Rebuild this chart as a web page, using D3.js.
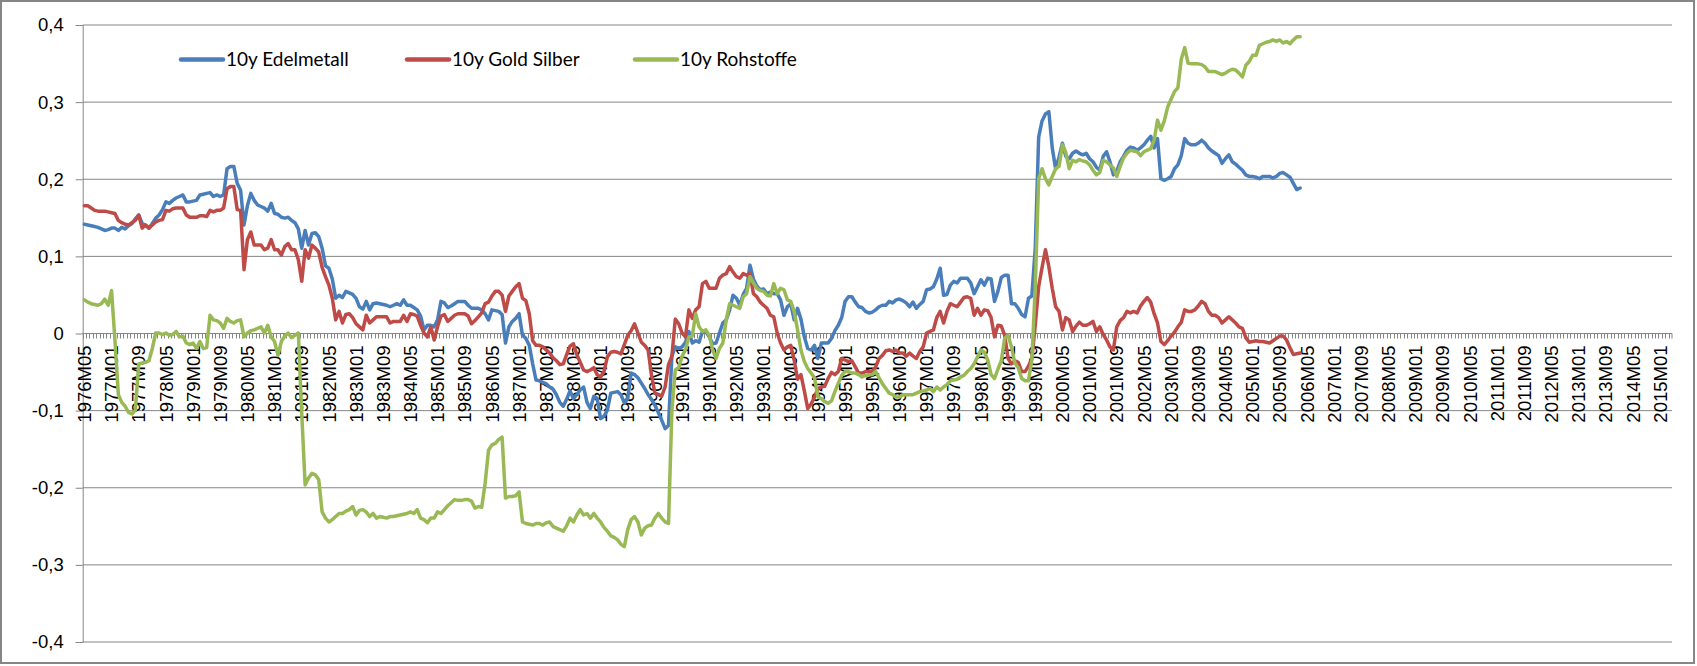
<!DOCTYPE html>
<html>
<head>
<meta charset="utf-8">
<script src="https://cdnjs.cloudflare.com/ajax/libs/d3/7.8.5/d3.min.js"></script>
<style>
  body { margin: 0; background: #fff; }
  svg { display: block; font-family: Lato, "Open Sans", sans-serif; }
</style>
</head>
<body>
<script>
// month categories start 1976M05, axis runs to 2015M04
var startYear = 1976;
var startMonth = 5;
var monthCount = 468;
var labelStep = 8;

var yTicks = [-0.4, -0.3, -0.2, -0.1, 0, 0.1, 0.2, 0.3, 0.4];

var seriesNames = ["10y Edelmetall", "10y Gold Silber", "10y Rohstoffe"];
var seriesColors = ["#4A7EBB", "#BE4B48", "#98B954"];

var edelmetall = [
  0.141,0.140,0.139,0.138,0.137,0.135,0.133,0.134,0.136,0.136,
  0.133,0.137,0.135,0.139,0.142,0.148,0.153,0.142,0.140,0.136,
  0.142,0.149,0.153,0.160,0.170,0.168,0.172,0.175,0.177,0.179,
  0.170,0.170,0.171,0.172,0.179,0.180,0.181,0.182,0.177,0.179,
  0.177,0.179,0.213,0.216,0.216,0.194,0.185,0.140,0.165,0.181,
  0.172,0.166,0.164,0.162,0.158,0.168,0.155,0.154,0.150,0.149,
  0.150,0.146,0.143,0.135,0.110,0.133,0.114,0.129,0.130,0.125,
  0.110,0.087,0.084,0.070,0.045,0.049,0.046,0.054,0.052,0.050,
  0.045,0.034,0.031,0.041,0.030,0.038,0.039,0.038,0.037,0.036,
  0.034,0.036,0.038,0.036,0.043,0.036,0.036,0.033,0.030,0.022,
  0.004,0.010,0.010,0.008,0.017,0.041,0.039,0.033,0.035,0.038,
  0.041,0.041,0.041,0.036,0.032,0.032,0.032,0.030,0.025,0.017,
  0.030,0.029,0.028,0.024,-0.013,0.008,0.015,0.019,0.025,-0.003,
  -0.007,-0.016,-0.040,-0.061,-0.062,-0.064,-0.066,-0.070,-0.073,-0.080,
  -0.090,-0.095,-0.086,-0.075,-0.085,-0.080,-0.074,-0.070,-0.090,-0.098,
  -0.082,-0.085,-0.111,-0.108,-0.100,-0.078,-0.077,-0.076,-0.080,-0.091,
  -0.085,-0.052,-0.054,-0.058,-0.065,-0.072,-0.080,-0.086,-0.094,-0.103,
  -0.113,-0.124,-0.120,-0.030,-0.018,-0.020,-0.018,-0.012,0.002,-0.013,
  -0.010,-0.012,0.002,0.002,-0.005,-0.014,-0.013,0.000,0.013,0.017,
  0.030,0.049,0.045,0.036,0.050,0.058,0.088,0.070,0.061,0.056,
  0.057,0.051,0.053,0.051,0.051,0.043,0.023,0.034,0.038,0.017,
  0.032,0.018,-0.005,-0.020,-0.022,-0.016,-0.033,-0.013,-0.013,-0.013,
  -0.007,0.003,0.010,0.020,0.041,0.047,0.047,0.040,0.034,0.033,
  0.028,0.026,0.027,0.030,0.034,0.036,0.036,0.041,0.039,0.043,
  0.044,0.042,0.039,0.034,0.040,0.032,0.037,0.041,0.056,0.057,
  0.060,0.070,0.084,0.049,0.050,0.062,0.067,0.065,0.071,0.071,
  0.071,0.065,0.051,0.060,0.069,0.062,0.071,0.070,0.041,0.054,
  0.072,0.075,0.075,0.038,0.038,0.032,0.024,0.021,0.045,0.048,
  0.110,0.254,0.275,0.284,0.287,0.240,0.213,0.228,0.246,0.229,
  0.226,0.233,0.236,0.233,0.231,0.233,0.226,0.222,0.215,0.211,
  0.229,0.235,0.222,0.205,0.210,0.222,0.229,0.237,0.241,0.240,
  0.237,0.240,0.244,0.250,0.255,0.240,0.252,0.200,0.198,0.200,
  0.203,0.213,0.218,0.230,0.252,0.246,0.244,0.244,0.246,0.250,
  0.246,0.240,0.236,0.233,0.230,0.220,0.226,0.231,0.222,0.219,
  0.215,0.211,0.205,0.203,0.203,0.202,0.200,0.203,0.203,0.203,
  0.201,0.203,0.207,0.208,0.205,0.202,0.194,0.186,0.188
];

var goldSilber = [
  0.165,0.165,0.162,0.159,0.158,0.158,0.158,0.157,0.156,0.155,
  0.146,0.143,0.141,0.140,0.143,0.146,0.153,0.136,0.140,0.136,
  0.140,0.144,0.146,0.147,0.159,0.158,0.161,0.162,0.162,0.162,
  0.153,0.150,0.150,0.150,0.152,0.152,0.151,0.159,0.157,0.159,
  0.159,0.162,0.187,0.190,0.190,0.160,0.159,0.082,0.121,0.131,
  0.114,0.114,0.114,0.108,0.110,0.121,0.108,0.108,0.101,0.112,
  0.116,0.108,0.108,0.095,0.067,0.108,0.097,0.114,0.110,0.105,
  0.085,0.073,0.062,0.045,0.017,0.028,0.013,0.024,0.025,0.020,
  0.012,0.008,0.004,0.023,0.013,0.017,0.021,0.021,0.021,0.021,
  0.013,0.015,0.015,0.015,0.023,0.015,0.025,0.024,0.022,0.010,
  0.000,-0.005,0.008,-0.009,0.008,0.022,0.024,0.015,0.019,0.023,
  0.025,0.025,0.025,0.022,0.012,0.016,0.021,0.026,0.038,0.040,
  0.048,0.054,0.054,0.049,0.028,0.048,0.054,0.060,0.064,0.045,
  0.042,0.025,-0.010,-0.016,-0.016,-0.018,-0.022,-0.026,-0.032,-0.036,
  -0.041,-0.040,-0.028,-0.017,-0.014,-0.028,-0.038,-0.048,-0.050,-0.048,
  -0.045,-0.054,-0.057,-0.050,-0.031,-0.025,-0.024,-0.025,-0.027,-0.015,
  -0.003,0.003,0.012,0.000,-0.012,-0.016,-0.022,-0.055,-0.078,-0.080,
  -0.082,-0.070,-0.041,-0.030,0.018,0.012,0.000,-0.005,0.030,0.019,
  0.030,0.034,0.064,0.067,0.058,0.058,0.058,0.071,0.075,0.077,
  0.086,0.079,0.073,0.071,0.077,0.075,0.077,0.051,0.047,0.040,
  0.036,0.032,0.023,0.021,0.000,-0.013,-0.022,-0.018,-0.016,-0.035,
  -0.060,-0.054,-0.075,-0.098,-0.092,-0.083,-0.072,-0.070,-0.069,-0.059,
  -0.051,-0.054,-0.050,-0.033,-0.035,-0.037,-0.036,-0.044,-0.052,-0.052,
  -0.050,-0.050,-0.050,-0.044,-0.033,-0.029,-0.023,-0.022,-0.024,-0.022,
  -0.026,-0.026,-0.030,-0.026,-0.030,-0.033,-0.024,-0.018,0.000,0.002,
  0.004,0.020,0.028,0.013,0.028,0.038,0.036,0.034,0.040,0.046,
  0.047,0.045,0.023,0.032,0.023,0.030,0.029,0.020,-0.005,0.010,
  0.009,-0.003,-0.033,-0.040,-0.036,-0.038,-0.050,-0.050,-0.043,-0.033,
  0.010,0.060,0.085,0.108,0.086,0.058,0.034,0.028,0.004,0.020,
  0.017,0.002,0.009,0.014,0.010,0.010,0.012,0.015,0.002,0.008,
  -0.002,-0.009,-0.018,-0.022,0.008,0.016,0.020,0.028,0.026,0.028,
  0.026,0.035,0.041,0.046,0.040,0.025,0.013,-0.011,-0.015,-0.010,
  -0.004,0.001,0.008,0.014,0.030,0.028,0.028,0.030,0.035,0.041,
  0.038,0.028,0.023,0.023,0.020,0.013,0.017,0.021,0.017,0.013,
  0.008,0.006,-0.006,-0.012,-0.011,-0.010,-0.011,-0.011,-0.012,-0.013,
  -0.010,-0.007,-0.004,-0.004,-0.009,-0.019,-0.028,-0.027,-0.026
];

var rohstoffe = [
  0.043,0.040,0.038,0.037,0.036,0.038,0.044,0.036,0.055,-0.010,
  -0.080,-0.090,-0.095,-0.103,-0.105,-0.100,-0.040,-0.039,-0.038,-0.036,
  -0.020,0.000,0.000,-0.002,0.000,-0.003,-0.002,0.002,-0.005,-0.004,
  -0.013,-0.015,-0.013,-0.020,-0.011,-0.020,-0.019,0.023,0.017,0.016,
  0.013,0.006,0.019,0.015,0.013,0.016,0.017,-0.005,0.000,0.003,
  0.004,0.006,0.008,0.000,0.010,-0.005,-0.011,-0.029,-0.011,-0.004,
  0.000,-0.006,-0.003,0.000,-0.104,-0.197,-0.188,-0.182,-0.184,-0.190,
  -0.232,-0.240,-0.245,-0.242,-0.238,-0.234,-0.234,-0.231,-0.229,-0.225,
  -0.236,-0.230,-0.229,-0.232,-0.238,-0.234,-0.240,-0.238,-0.239,-0.240,
  -0.238,-0.238,-0.237,-0.236,-0.235,-0.234,-0.232,-0.234,-0.229,-0.240,
  -0.242,-0.246,-0.240,-0.240,-0.232,-0.234,-0.229,-0.224,-0.220,-0.216,
  -0.217,-0.217,-0.216,-0.216,-0.218,-0.227,-0.225,-0.226,-0.195,-0.152,
  -0.145,-0.143,-0.138,-0.135,-0.214,-0.212,-0.212,-0.211,-0.206,-0.245,
  -0.247,-0.248,-0.249,-0.247,-0.247,-0.249,-0.246,-0.245,-0.251,-0.253,
  -0.255,-0.257,-0.250,-0.240,-0.245,-0.236,-0.229,-0.236,-0.234,-0.240,
  -0.234,-0.240,-0.245,-0.252,-0.257,-0.263,-0.265,-0.268,-0.274,-0.277,
  -0.255,-0.242,-0.238,-0.245,-0.262,-0.253,-0.250,-0.249,-0.240,-0.234,
  -0.240,-0.245,-0.247,-0.100,-0.048,-0.045,-0.030,-0.022,-0.005,-0.004,
  0.025,0.008,0.002,0.004,-0.003,-0.022,-0.033,-0.020,-0.013,0.017,
  0.038,0.036,0.034,0.032,0.047,0.051,0.073,0.065,0.058,0.055,
  0.054,0.049,0.048,0.064,0.051,0.058,0.056,0.043,0.041,0.028,
  0.004,-0.022,-0.037,-0.046,-0.052,-0.058,-0.083,-0.085,-0.089,-0.091,
  -0.088,-0.076,-0.065,-0.055,-0.050,-0.050,-0.052,-0.052,-0.054,-0.057,
  -0.055,-0.054,-0.054,-0.050,-0.058,-0.066,-0.072,-0.078,-0.080,-0.083,
  -0.083,-0.080,-0.080,-0.080,-0.080,-0.078,-0.076,-0.075,-0.074,-0.072,
  -0.076,-0.070,-0.074,-0.070,-0.067,-0.062,-0.061,-0.060,-0.057,-0.055,
  -0.050,-0.046,-0.040,-0.031,-0.022,-0.025,-0.035,-0.054,-0.059,-0.047,
  -0.036,-0.007,-0.003,-0.018,-0.039,-0.045,-0.059,-0.062,-0.062,-0.035,
  0.060,0.200,0.213,0.200,0.192,0.203,0.213,0.216,0.244,0.234,
  0.213,0.224,0.222,0.225,0.223,0.222,0.218,0.211,0.205,0.208,
  0.224,0.222,0.218,0.214,0.203,0.216,0.227,0.233,0.237,0.236,
  0.235,0.230,0.235,0.237,0.239,0.250,0.276,0.263,0.275,0.293,
  0.303,0.313,0.318,0.355,0.370,0.350,0.349,0.349,0.349,0.348,
  0.345,0.339,0.339,0.339,0.337,0.335,0.337,0.340,0.342,0.341,
  0.337,0.332,0.347,0.352,0.360,0.360,0.373,0.375,0.377,0.378,
  0.380,0.378,0.380,0.376,0.378,0.375,0.380,0.384,0.384
];

var series = [edelmetall, goldSilber, rohstoffe];

var width = 1697;
var height = 666;
var plotLeft = 82.7;
var plotRight = 1672;
var plotTop = 24.5;
var plotBottom = 641.5;
var gray = "#868686";

// build month labels like 1976M05
var categories = [];
for (var i = 0; i < monthCount; i++) {
  var m = startMonth - 1 + i;
  var yr = startYear + Math.floor(m / 12);
  var mo = (m % 12) + 1;
  categories.push(yr + "M" + (mo < 10 ? "0" + mo : mo));
}
var labelCats = categories.filter((c, i) => i % labelStep == 0);

var svg = d3.select("body").append("svg")
  .attr("width", width)
  .attr("height", height);

// chart border
svg.append("rect")
  .attr("x", 1)
  .attr("y", 1)
  .attr("width", width - 4)
  .attr("height", height - 4)
  .attr("fill", "#fff")
  .attr("stroke", gray)
  .attr("stroke-width", 2);

var xScale = d3.scaleBand()
  .domain(categories)
  .range([plotLeft, plotRight])
  .padding(0);

var yScale = d3.scaleLinear()
  .domain([-0.4, 0.4])
  .range([plotBottom, plotTop]);

function fmt(d) {
  if (d == 0) return "0";
  return (d < 0 ? "-" : "") + Math.abs(d).toFixed(1).replace(".", ",");
}

// gridlines
svg.append("g")
  .selectAll("line")
  .data(yTicks)
  .enter()
    .append("line")
    .attr("x1", plotLeft)
    .attr("x2", plotRight)
    .attr("y1", d => yScale(d) + 0.5)
    .attr("y2", d => yScale(d) + 0.5)
    .attr("stroke", gray)
    .attr("stroke-width", 1);

// y axis
var yAxis = d3.axisLeft(yScale)
  .tickValues(yTicks)
  .tickSize(7)
  .tickPadding(12)
  .tickFormat(fmt);

var yAxisG = svg.append("g")
  .attr("id", "y-axis")
  .attr("transform", "translate(" + plotLeft + ",0.5)")
  .call(yAxis);
yAxisG.select(".domain").attr("stroke", gray);
yAxisG.selectAll(".tick line").attr("stroke", gray);
yAxisG.selectAll(".tick text")
  .attr("fill", "#000")
  .style("font-size", "18.5px");

// x axis at zero, a small tick between every month
var zeroY = yScale(0) + 0.5;
var xAxisG = svg.append("g").attr("id", "x-axis");
xAxisG.selectAll("line.minor")
  .data(categories.concat(["end"]))
  .enter()
    .append("line")
    .attr("class", "minor")
    .attr("x1", d => d == "end" ? plotRight : Math.round(xScale(d)) + 0.5)
    .attr("x2", d => d == "end" ? plotRight : Math.round(xScale(d)) + 0.5)
    .attr("y1", zeroY)
    .attr("y2", zeroY + 5)
    .attr("stroke", gray)
    .attr("stroke-width", 1);
xAxisG.append("line")
  .attr("x1", plotLeft)
  .attr("x2", plotRight)
  .attr("y1", zeroY)
  .attr("y2", zeroY)
  .attr("stroke", gray);

var xAxis = d3.axisBottom(xScale)
  .tickValues(labelCats)
  .tickSize(0)
  .tickSizeOuter(0);

var xLabels = svg.append("g")
  .attr("transform", "translate(0," + (zeroY + 12) + ")")
  .call(xAxis);
xLabels.select(".domain").remove();
xLabels.selectAll(".tick text")
  .attr("fill", "#000")
  .style("font-size", "18.5px")
  .attr("text-anchor", "end")
  .attr("x", 0)
  .attr("y", 0)
  .attr("dy", "0.36em")
  .attr("transform", "rotate(-90)");

// series lines
var line = d3.line()
  .x((d, i) => xScale(categories[i]) + xScale.bandwidth() / 2)
  .y(d => yScale(d));

svg.append("g")
  .selectAll("path")
  .data(series)
  .enter()
    .append("path")
    .attr("d", d => line(d))
    .attr("fill", "none")
    .attr("stroke", (d, i) => seriesColors[i])
    .attr("stroke-width", 3.5)
    .attr("stroke-linejoin", "round")
    .attr("stroke-linecap", "round");

// legend
var legendX = [181, 407, 635];
var legend = svg.append("g").attr("id", "legend");
seriesNames.forEach((name, i) => {
  legend.append("line")
    .attr("x1", legendX[i])
    .attr("x2", legendX[i] + 42)
    .attr("y1", 59.5)
    .attr("y2", 59.5)
    .attr("stroke", seriesColors[i])
    .attr("stroke-width", 4.5)
    .attr("stroke-linecap", "round");
  legend.append("text")
    .attr("x", legendX[i] + 45)
    .attr("y", 59.5)
    .attr("dy", "0.35em")
    .style("font-size", "19px")
    .attr("fill", "#000")
    .text(name);
});
</script>
</body>
</html>
